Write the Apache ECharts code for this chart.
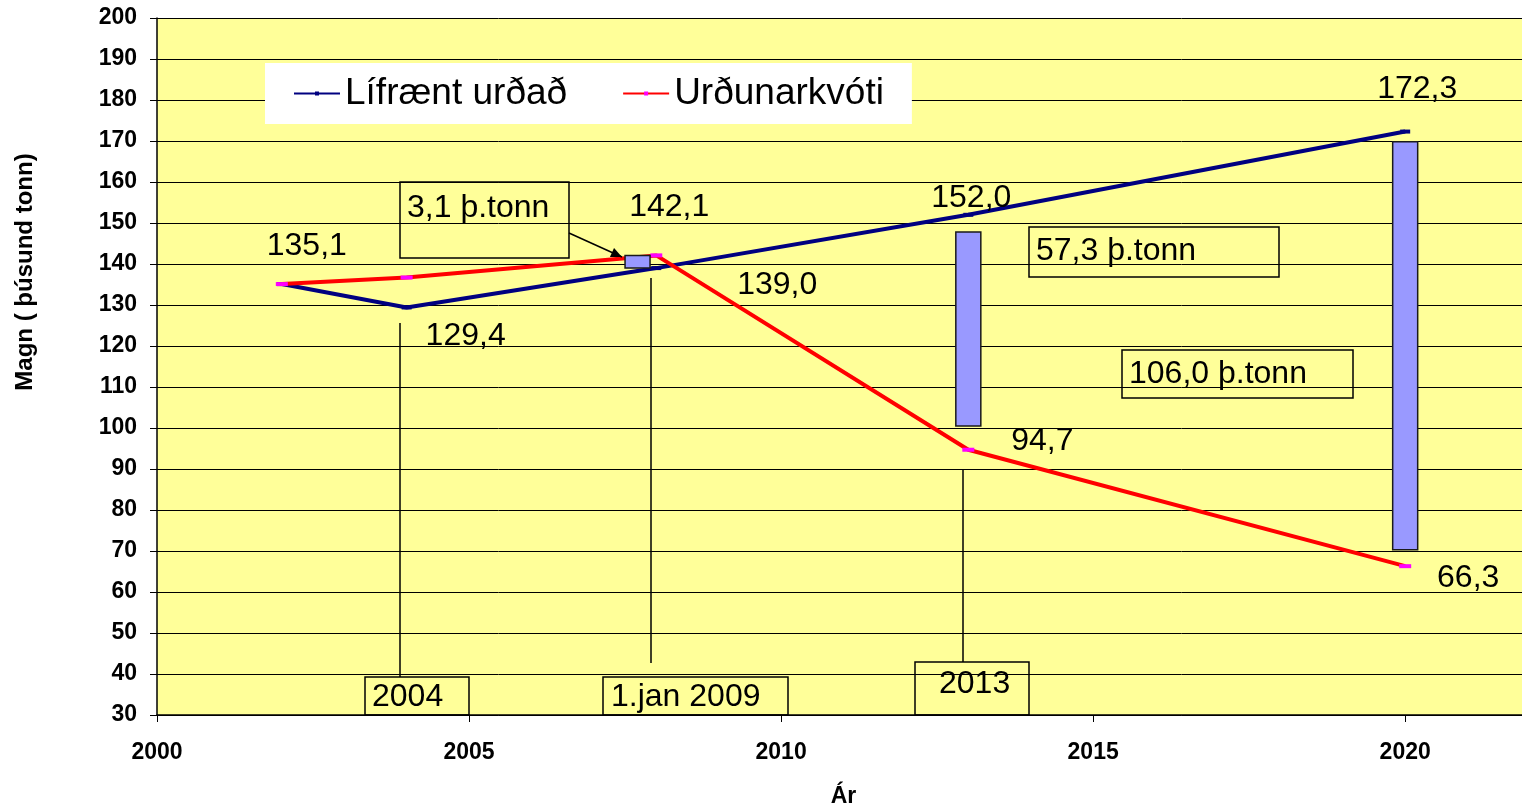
<!DOCTYPE html>
<html>
<head>
<meta charset="utf-8">
<script src="https://cdn.jsdelivr.net/npm/echarts@6/dist/echarts.min.js"></script>
<style>
  html, body { margin: 0; padding: 0; background: #fff; }
  #chart { width: 1522px; height: 809px; }
</style>
</head>
<body>
<div id="chart"></div>
<script>
// gögn lesin af myndinni
var years = [2002, 2004, 2008, 2013, 2020];
var lifraent = [135.1, 129.4, 139.0, 152.0, 172.3];
var kvoti = [135.1, 136.7, 142.1, 94.7, 66.3];

// mismunur (súlur)
var gapYears = [2007.7, 2013, 2020];
var gapLow = [139.0, 100.5, 70.3];
var gapHigh = [142.1, 147.8, 169.8];

var xTicks = [2000, 2005, 2010, 2015, 2020];

var font = '"Liberation Sans", Arial, sans-serif';
var fmt = function (v) { return v.toFixed(1).replace('.', ','); };

// hvar gildin eru skrifuð miðað við punktinn (null = ekkert)
var lifOffsets = [[25, -38], [59, 29], [121, 17], [3, -17], [12, -42]];
var kvotiOffsets = [null, null, [13, -48], [74, -9], [63, 12]];

var buildData = function (vals, offsets) {
  var out = [];
  for (var i = 0; i < years.length; i++) {
    var item = { value: [years[i], vals[i]] };
    if (offsets[i]) {
      item.label = {
        show: true,
        position: 'inside',
        offset: offsets[i],
        formatter: fmt(vals[i]),
        color: '#000',
        fontSize: 32,
        fontFamily: font
      };
    }
    out.push(item);
  }
  return out;
};

var gapData = [];
for (var i = 0; i < gapYears.length; i++) gapData.push([gapYears[i], gapLow[i], gapHigh[i]]);

var box = function (x, y, w, h, text, tx, ty) {
  return {
    type: 'group',
    z: 50,
    children: [
      { type: 'rect', shape: { x: x, y: y, width: w, height: h },
        style: { fill: '#FFFF99', stroke: '#000', lineWidth: 1.5 } },
      { type: 'text', x: tx, y: ty,
        style: { text: text, fill: '#000', font: '32px ' + font, verticalAlign: 'middle' } }
    ]
  };
};

var vline = function (x, y1, y2) {
  return { type: 'line', z: 40, shape: { x1: x, y1: y1, x2: x, y2: y2 },
    style: { stroke: '#000', lineWidth: 1.5 } };
};

// ör frá "3,1 þ.tonn"
var ax1 = 569, ay1 = 233, ax2 = 622, ay2 = 257;
var ang = Math.atan2(ay2 - ay1, ax2 - ax1);
var ah = 11, aw = 5;
var arrowHead = [
  [ax2, ay2],
  [ax2 - ah * Math.cos(ang) + aw * Math.sin(ang), ay2 - ah * Math.sin(ang) - aw * Math.cos(ang)],
  [ax2 - ah * Math.cos(ang) - aw * Math.sin(ang), ay2 - ah * Math.sin(ang) + aw * Math.cos(ang)]
];

var chart = echarts.init(document.getElementById('chart'));
chart.setOption({
  backgroundColor: '#fff',
  animation: false,
  textStyle: { fontFamily: font },
  grid: {
    left: 157, top: 18, width: 1373, height: 697,
    outerBoundsMode: 'none',
    containLabel: false,
    show: true, backgroundColor: '#FFFF99', borderWidth: 0
  },
  legend: {
    left: 265, top: 63,
    padding: [12, 28, 12, 28],
    backgroundColor: '#fff',
    itemGap: 55,
    itemWidth: 46,
    itemHeight: 5,
    textStyle: { fontSize: 37, color: '#000', fontFamily: font },
    data: ['Lífrænt urðað', 'Urðunarkvóti']
  },
  xAxis: {
    type: 'value',
    min: 2000, max: 2022, interval: 5,
    name: 'Ár', nameLocation: 'middle', nameGap: 70,
    nameTextStyle: { fontSize: 23, fontWeight: 'bold', color: '#000' },
    axisLine: { lineStyle: { color: '#000', width: 1.5 } },
    axisTick: { show: true, length: 7, lineStyle: { color: '#000' } },
    axisLabel: {
      margin: 26, fontSize: 23, fontWeight: 'bold', color: '#000',
      formatter: function (v) { return xTicks.indexOf(v) >= 0 ? String(v) : ''; }
    },
    splitLine: { show: false }
  },
  yAxis: {
    type: 'value',
    min: 30, max: 200, interval: 10,
    axisLine: { show: true, lineStyle: { color: '#000', width: 1.5 } },
    axisTick: { show: true, length: 7, lineStyle: { color: '#000' } },
    axisLabel: { margin: 20, fontSize: 23, fontWeight: 'bold', color: '#000' },
    splitLine: { show: true, lineStyle: { color: '#000', width: 1 } }
  },
  series: [
    {
      name: 'Lífrænt urðað',
      type: 'line',
      z: 3,
      data: buildData(lifraent, lifOffsets),
      symbol: 'rect', symbolSize: [10, 4], showSymbol: true,
      itemStyle: { color: '#000080' },
      lineStyle: { color: '#000080', width: 4 }
    },
    {
      name: 'Urðunarkvóti',
      type: 'line',
      z: 4,
      data: buildData(kvoti, kvotiOffsets),
      symbol: 'rect', symbolSize: [12, 4], showSymbol: true,
      itemStyle: { color: '#FF00FF' },
      lineStyle: { color: '#FF0000', width: 4 }
    },
    {
      name: 'mismunur',
      type: 'custom',
      z: 6,
      data: gapData,
      renderItem: function (params, api) {
        var top = api.coord([api.value(0), api.value(2)]);
        var bot = api.coord([api.value(0), api.value(1)]);
        var w = 25;
        return {
          type: 'rect',
          shape: { x: top[0] - w / 2, y: top[1], width: w, height: bot[1] - top[1] },
          style: { fill: '#9999FF', stroke: '#1a1a1a', lineWidth: 1.5 }
        };
      }
    }
  ],
  graphic: [
    vline(400, 323, 677),
    vline(651, 278, 663),
    vline(963, 470, 662),
    box(400, 182, 169, 76, '3,1 þ.tonn', 407, 208),
    box(1029, 227, 250, 50, '57,3 þ.tonn', 1036, 251),
    box(1122, 350, 231, 48, '106,0 þ.tonn', 1129, 374),
    box(365, 677, 104, 38, '2004', 372, 697),
    box(603, 677, 185, 38, '1.jan 2009', 611, 697),
    box(915, 662, 114, 53, '2013', 939, 684),
    { type: 'line', z: 45, shape: { x1: ax1, y1: ay1, x2: ax2, y2: ay2 },
      style: { stroke: '#000', lineWidth: 1.5 } },
    { type: 'polygon', z: 45, shape: { points: arrowHead }, style: { fill: '#000' } },
    { type: 'text', x: 25, y: 272, rotation: Math.PI / 2,
      style: { text: 'Magn ( þúsund tonn)', fill: '#000', font: 'bold 24px ' + font,
        align: 'center', verticalAlign: 'middle' } }
  ]
});
</script>
</body>
</html>
